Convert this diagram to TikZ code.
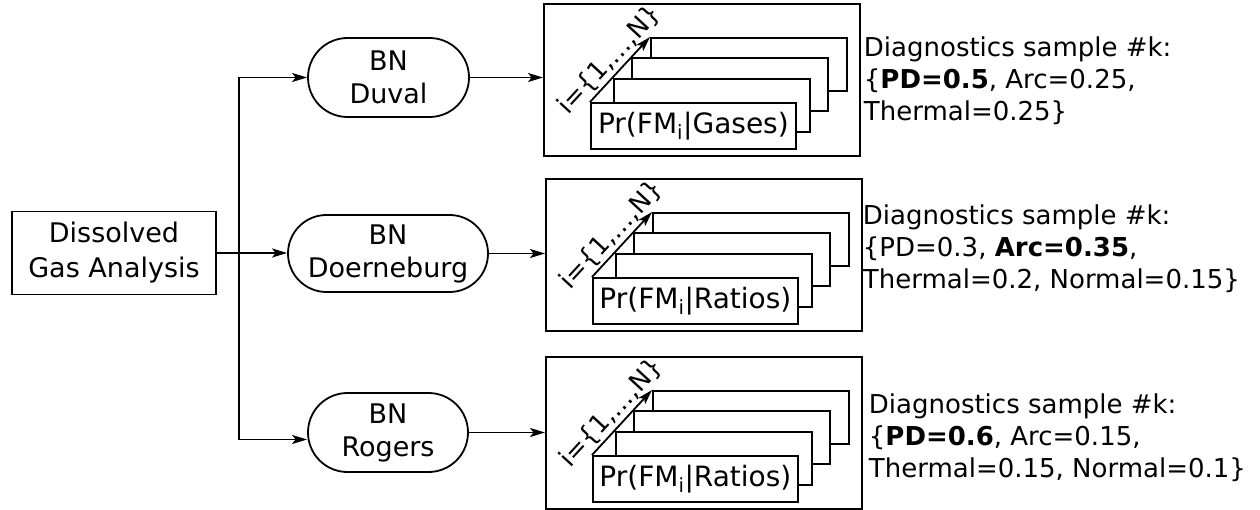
\documentclass[tikz,border=0pt]{standalone}
\usepackage{fontspec}
\setmainfont{DejaVu Sans}
\usetikzlibrary{arrows.meta,shapes.misc,calc}
\newcommand\fmstack[5]{%
  % #1 name, #2 x, #3 y, #4 condition text
  \begin{scope}[shift={(#2,#3)}]
    \node[outer] (#1) at (0,0) {};
    \node[layer] (#1l3) at (107,34) {};
    \node[layer] (#1l2) at (88,54) {};
    \node[layer] (#1l1) at (70,75) {};
    \node[front] (#1f) at (47,99) {Pr(FM\textsubscript{i}|#4)};
    \draw[->] (#1f.north west) -- (#1l3.north west)
      node[midway, sloped, above, inner sep=1.5pt, font=\fontsize{25.5}{30}\selectfont] (#1lab) {i=\{1,…,N\}};
  \end{scope}
}
\begin{document}
\begin{tikzpicture}[x=1pt,y=-1pt, line width=1.8pt,
  >={Stealth[length=15pt,width=9pt,inset=3.5pt]},
  box/.style={draw, rectangle, inner sep=0, align=center, font=\fontsize{27}{35}\selectfont},
  bn/.style={draw, rounded rectangle, inner sep=0, align=center, minimum height=79pt, font=\fontsize{27}{33}\selectfont},
  outer/.style={draw, rectangle, inner sep=0, anchor=north west, minimum width=316pt, minimum height=152pt},
  layer/.style={draw, fill=white, inner sep=0, anchor=north west, minimum width=196pt, minimum height=53pt},
  front/.style={draw, fill=white, inner sep=0, anchor=north west, minimum width=205pt, minimum height=46pt, font=\fontsize{28}{33}\selectfont},
  diag/.style={anchor=base west, align=left, inner sep=0, font=\fontsize{26}{32}\selectfont}]
\useasboundingbox (0,0) rectangle (1260,510);

\node[box, minimum width=204pt, minimum height=83pt] (dga) at (114,253) {Dissolved\\Gas Analysis};
\node[bn, minimum width=161pt] (duval) at (388.5,77.5) {BN\\Duval};
\node[bn, minimum width=200pt, minimum height=77pt] (doer) at (388,253.5) {BN\\Doerneburg};
\node[bn, minimum width=160pt] (rogers) at (388,432.5) {BN\\Rogers};

\coordinate (split) at (239,253);
\draw (dga.east) -- (split);
\draw[->] (split) |- (duval.west);
\draw[->] (split) -- (split -| doer.west);
\draw[->] (split) |- ([yshift=-7pt]rogers.west);

\fmstack{pa}{543}{3}{Gases}{}
\fmstack{pb}{545}{178}{Ratios}{}
\fmstack{pc}{545}{356}{Ratios}{}

\draw[->] (duval.east) -- (duval.east -| pa.west);
\draw[->] (doer.east) -- (doer.east -| pb.west);
\draw[->] (rogers.east) -- (rogers.east -| pc.west);

\node[diag] (ta) at (863,121) {Diagnostics sample \#k:\\\{\textbf{PD=0.5}, Arc=0.25,\\Thermal=0.25\}};
\node[diag] (tb) at (862,289) {Diagnostics sample \#k:\\\{PD=0.3, \textbf{Arc=0.35},\\Thermal=0.2, Normal=0.15\}};
\node[diag] (tc) at (868,477) {Diagnostics sample \#k:\\\{\textbf{PD=0.6}, Arc=0.15,\\Thermal=0.15, Normal=0.1\}};
\end{tikzpicture}
\end{document}
